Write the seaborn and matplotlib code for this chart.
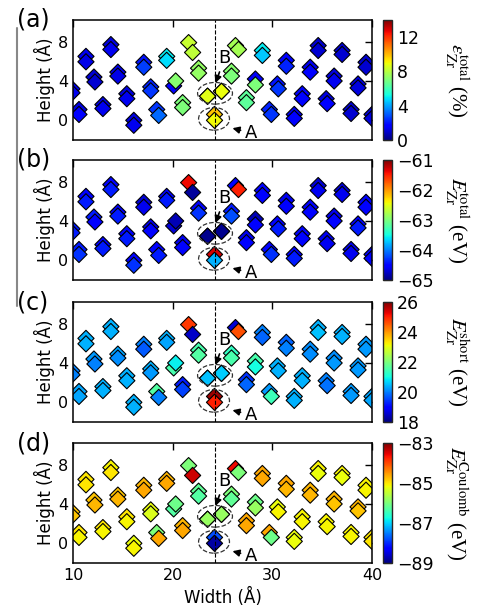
import numpy as np
import pandas as pd
import matplotlib
matplotlib.use("Agg")
import matplotlib.pyplot as plt
import seaborn as sns
from matplotlib.patches import Ellipse
from matplotlib.lines import Line2D
from matplotlib.colors import Normalize
from matplotlib.cm import ScalarMappable

# site positions (front atom and the one behind it)
x_front = [9.9, 10.6, 11.3, 12.2, 13.0, 13.8, 14.5, 15.4, 16.1, 17.1, 17.8, 18.6, 19.4, 20.3, 21.0,
           22.0, 22.6, 23.5, 24.9, 24.2, 26.6, 25.9, 27.4, 29.0, 28.3, 29.9, 31.4, 30.6, 32.2, 33.0,
           33.8, 34.6, 35.5, 36.2, 37.0, 37.9, 38.6, 39.4, 40.0]
y_front = [2.8, 0.6, 5.95, 3.9, 1.2, 7.2, 4.5, 2.2, -0.5, 5.4, 3.0, 0.5, 6.1, 4.0, 1.3,
           6.9, 4.8, 2.45, 2.95, 0.0, 7.2, 4.5, 1.8, 6.6, 3.6, 0.6, 5.5, 3.2, 0.2, 2.2,
           4.9, 7.1, 1.7, 4.0, 6.7, 0.7, 3.3, 5.4, 0.2]
x_back = [9.9, 10.6, 11.3, 12.1, 13.0, 13.8, 14.5, 15.4, 16.1, 17.1, 17.8, 18.4, 19.4, 20.1, 21.0,
          21.6, 22.6, 23.5, 24.9, 24.2, 26.3, 25.9, 27.4, 29.0, 28.3, 29.7, 31.4, 30.5, 32.2, 33.0,
          33.8, 34.6, 35.4, 36.2, 37.0, 37.9, 38.6, 39.4, 40.0]
y_back = [3.2, 1.1, 6.5, 4.4, 1.6, 7.7, 4.9, 2.7, 0.0, 5.9, 3.4, 1.1, 6.5, 3.5, 1.8,
          7.9, 5.3, 2.45, 2.95, 0.6, 7.6, 5.0, 2.3, 7.1, 4.2, 1.1, 6.1, 3.7, 0.6, 2.7,
          5.4, 7.6, 2.2, 4.5, 7.1, 1.1, 3.7, 5.9, 0.6]

# (a) total strain, %
strain_front = [1.4, 1.6, 1.3, 1.0, 1.4, 1.4, 1.3, 1.4, 1.4, 2.6, 2.5, 3.2, 4.8, 7.2, 7.0,
                8.1, 7.4, 8.7, 8.9, 9.0, 7.7, 7.0, 6.5, 4.5, 7.0, 2.5, 2.2, 2.5, 1.6, 1.8,
                1.6, 1.0, 1.6, 1.4, 1.0, 1.0, 1.2, 1.0, 1.2]
strain_back = [1.4, 1.2, 1.4, 1.0, 1.2, 1.2, 1.4, 1.2, 1.2, 2.0, 2.2, 2.5, 5.0, 1.6, 7.0,
               8.3, 7.4, 8.7, 8.9, 9.8, 7.7, 7.2, 6.5, 5.0, 1.5, 2.2, 1.6, 2.0, 1.4, 1.6,
               1.4, 1.0, 1.2, 1.2, 1.0, 1.0, 1.2, 1.0, 1.2]
# (b) total energy, eV
etot_front = [-64.4, -64.3, -64.4, -64.5, -64.4, -64.4, -64.4, -64.4, -64.3, -64.6, -64.5, -64.4, -64.4, -64.8, -64.5,
              -64.9, -64.3, -64.95, -64.95, -63.8, -61.5, -64.2, -64.5, -64.5, -64.5, -64.3, -64.5, -64.4, -64.4, -64.5,
              -64.5, -64.6, -64.6, -64.5, -64.6, -64.6, -64.4, -64.5, -64.5]
etot_back = [-64.4, -64.4, -64.5, -64.4, -64.5, -64.5, -64.5, -64.5, -64.5, -64.7, -64.6, -64.5, -64.5, -64.7, -64.6,
             -61.4, -64.5, -64.95, -64.95, -61.3, -64.5, -64.4, -64.6, -64.5, -64.8, -64.5, -64.6, -64.5, -64.5, -64.5,
             -64.5, -64.7, -64.6, -64.6, -64.7, -64.6, -64.5, -64.5, -64.5]
# (c) short-range energy, eV
eshort_front = [20.0, 20.3, 20.4, 20.0, 20.4, 20.4, 20.1, 20.4, 20.4, 19.7, 20.2, 20.0, 20.3, 20.9, 19.5,
                18.5, 21.6, 20.5, 20.6, 25.0, 24.6, 21.5, 19.8, 19.8, 21.0, 21.4, 20.0, 20.4, 20.4, 20.4,
                20.1, 20.5, 19.9, 20.2, 20.4, 20.2, 20.2, 20.2, 20.3]
eshort_back = [20.0, 20.3, 20.4, 20.2, 20.4, 20.4, 20.3, 20.4, 20.4, 20.0, 20.4, 21.6, 20.4, 21.5, 19.2,
               24.8, 21.5, 20.5, 20.6, 25.8, 18.6, 21.3, 19.4, 20.0, 21.5, 20.2, 19.8, 20.4, 20.4, 20.4,
               20.1, 20.4, 20.0, 20.1, 20.4, 20.2, 20.2, 20.2, 20.3]
# (d) Coulomb energy, eV
ecoul_front = [-84.8, -85.1, -85.0, -84.7, -85.1, -85.0, -84.7, -85.1, -85.1, -84.6, -85.3, -84.6, -84.6, -86.1, -84.6,
               -83.4, -86.3, -85.8, -85.8, -88.8, -86.0, -86.2, -84.6, -84.6, -85.8, -86.1, -84.7, -85.1, -85.2, -85.1,
               -84.7, -85.2, -85.1, -84.8, -85.2, -85.1, -84.8, -85.1, -85.0]
ecoul_back = [-84.8, -85.0, -85.0, -84.8, -85.0, -85.1, -84.8, -85.0, -85.2, -84.7, -85.2, -86.0, -84.7, -86.3, -84.7,
              -86.0, -86.2, -85.8, -85.8, -87.8, -83.6, -86.0, -84.6, -84.6, -86.1, -84.6, -84.6, -85.2, -85.2, -85.1,
              -84.7, -85.1, -85.1, -84.7, -85.1, -85.1, -84.7, -85.1, -85.0]

panels = [
    ("(a)", strain_front, strain_back, (0, 14), [0, 4, 8, 12],
     r"$\varepsilon_{\rm Zr}^{\rm total}$ (%)"),
    ("(b)", etot_front, etot_back, (-65, -61), [-65, -64, -63, -62, -61],
     r"$E_{\rm Zr}^{\rm total}$ (eV)"),
    ("(c)", eshort_front, eshort_back, (18, 26), [18, 20, 22, 24, 26],
     r"$E_{\rm Zr}^{\rm short}$ (eV)"),
    ("(d)", ecoul_front, ecoul_back, (-89, -83), [-89, -87, -85, -83],
     r"$E_{\rm Zr}^{\rm Coulomb}$ (eV)"),
]

sns.set_style("white")
plt.rcParams["mathtext.fontset"] = "stix"
plt.rcParams["font.family"] = ["DejaVu Sans"]
for key in ["text.color", "axes.labelcolor", "xtick.color", "ytick.color"]:
    plt.rcParams[key] = "black"
jet = plt.get_cmap("jet")

W, H = 478, 613
fig = plt.figure(figsize=(W / 100, H / 100), dpi=100)
tops = [20, 160, 302, 443]
ax_h = 120

for i, (tag, vf, vb, lim, cticks, clabel) in enumerate(panels):
    top = tops[i]
    ax = fig.add_axes([73 / W, 1 - (top + ax_h) / H, 299 / W, ax_h / H])
    df = pd.DataFrame({
        "x": x_back + x_front,
        "y": y_back + y_front,
        "v": vb + vf,
    })
    sns.scatterplot(data=df, x="x", y="y", hue="v", palette=jet, hue_norm=lim,
                    marker="D", s=68, edgecolor="black", linewidth=0.8,
                    legend=False, ax=ax, zorder=2)
    ax.set_xlim(10, 40)
    ax.set_ylim(-2, 10.2)
    ax.set_xticks([10, 20, 30, 40])
    ax.set_yticks([0, 4, 8])
    ax.tick_params(direction="in", top=True, right=True, length=5, width=1,
                   labelsize=11.5)
    for sp in ax.spines.values():
        sp.set_linewidth(1.1)
        sp.set_color("black")
    ax.set_ylabel("Height (Å)", fontsize=12, labelpad=2)
    if i < 3:
        ax.set_xticklabels([])
        ax.set_xlabel("")
    else:
        ax.set_xlabel("Width (Å)", fontsize=12)

    ax.axvline(24.2, color="black", ls="--", lw=0.8, zorder=3)
    ax.add_patch(Ellipse((24.25, 2.75), 3.5, 2.2, fill=False, ls="--", lw=0.9,
                         ec="#333333", zorder=3))
    ax.add_patch(Ellipse((24.15, 0.15), 3.1, 2.3, fill=False, ls="--", lw=0.9,
                         ec="#333333", zorder=3))
    ax.annotate("B", xy=(24.3, 3.8), xytext=(25.2, 6.3), fontsize=13,
                ha="center", va="center", zorder=4,
                arrowprops=dict(arrowstyle="-|>", color="black", lw=1.2,
                                shrinkA=1, shrinkB=0, mutation_scale=10))
    ax.annotate("A", xy=(26.0, -0.8), xytext=(27.9, -1.3), fontsize=13,
                ha="center", va="center", zorder=4,
                arrowprops=dict(arrowstyle="-|>", color="black", lw=1.2,
                                shrinkA=1, shrinkB=0, mutation_scale=10))
    ax.text(-0.187, 1.0, tag, transform=ax.transAxes, fontsize=17,
            ha="left", va="center")

    cax = fig.add_axes([383 / W, 1 - (top + ax_h) / H, 9 / W, ax_h / H])
    cb = fig.colorbar(ScalarMappable(norm=Normalize(*lim), cmap=jet), cax=cax)
    cb.set_ticks(cticks)
    cb.ax.tick_params(direction="in", length=6.5, width=0.8, labelsize=12.5)
    cb.outline.set_linewidth(1)
    fig.text(457 / W, 1 - (top + ax_h / 2) / H, clabel, rotation=270,
             ha="center", va="center", fontsize=15, family="Liberation Serif")

fig.add_artist(Line2D([17 / W, 17 / W], [1 - 28 / H, 1 - 306 / H],
                      color="#888888", lw=1.5))

fig.savefig("out.png", dpi=100)
